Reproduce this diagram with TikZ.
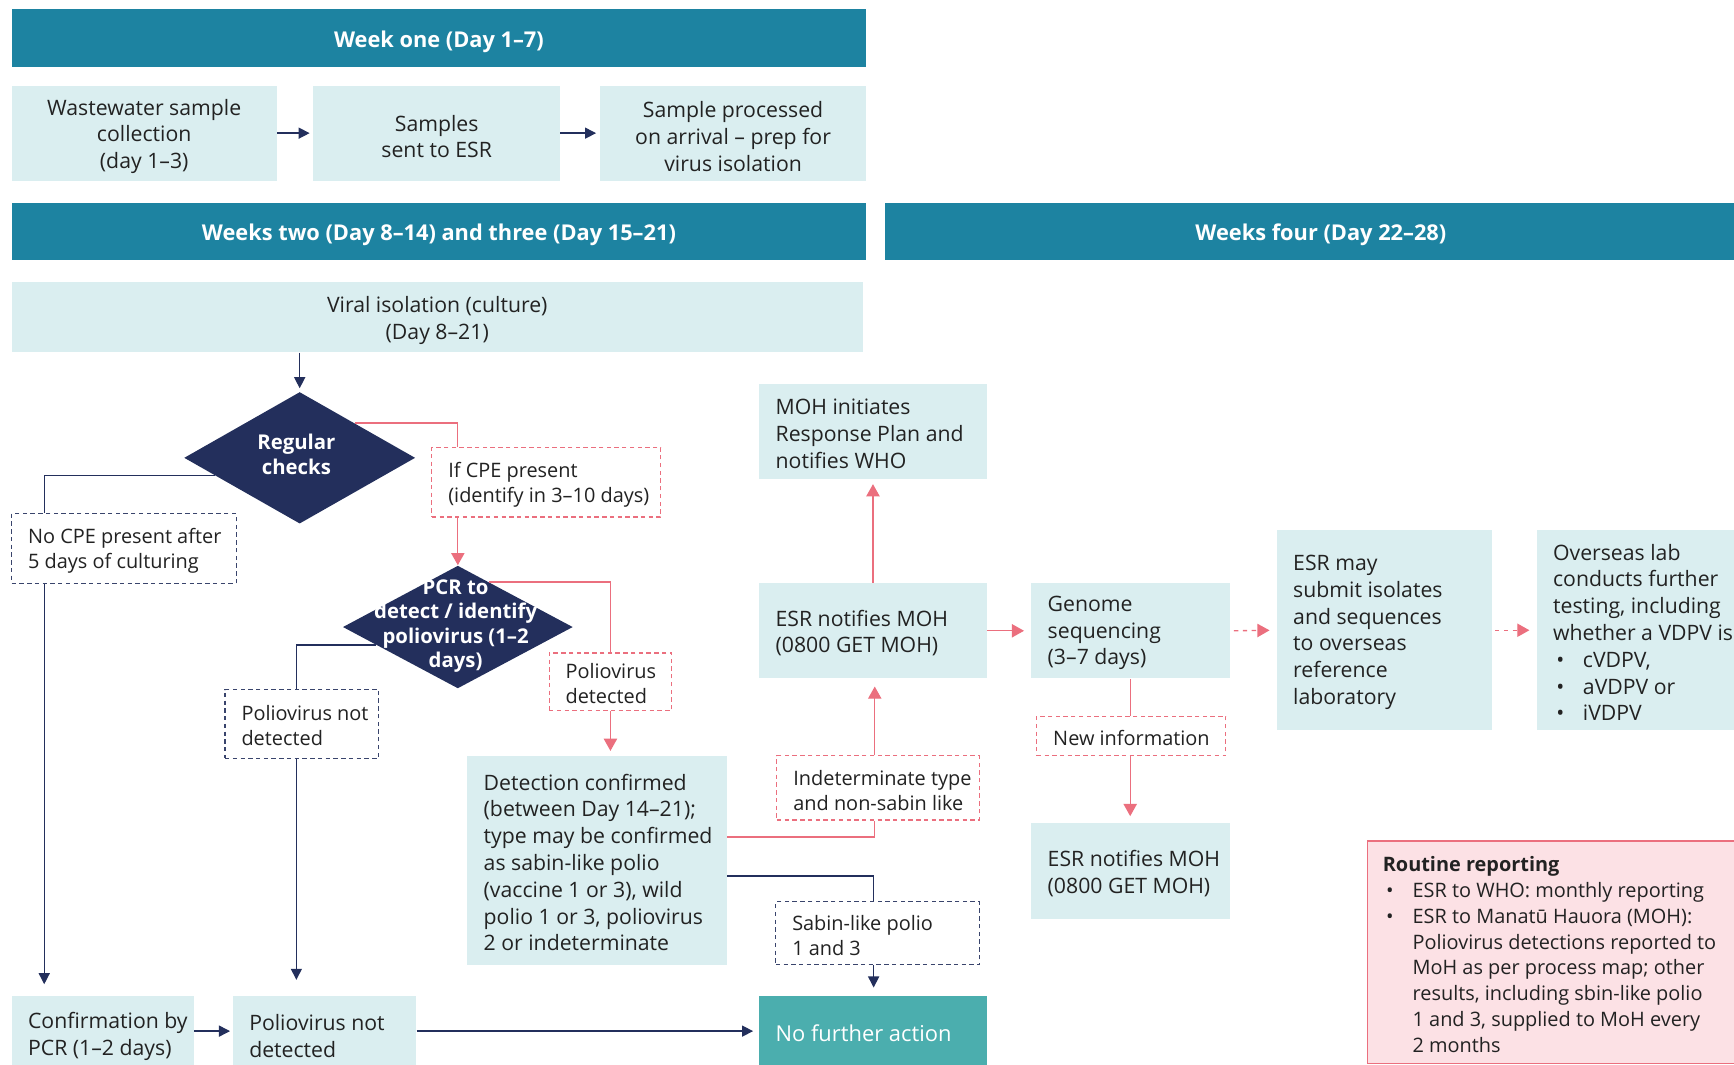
\documentclass[tikz,border=0pt]{standalone}
\usepackage{fontspec}
\setmainfont{Open Sans}
\usetikzlibrary{shapes.geometric,arrows.meta,calc}
\definecolor{hdr}{HTML}{1D83A1}
\definecolor{lbox}{HTML}{DAEEF0}
\definecolor{navy}{HTML}{232F5C}
\definecolor{pinkc}{HTML}{EB6F7E}
\definecolor{tealc}{HTML}{4BAEAE}
\definecolor{rfill}{HTML}{FCE1E5}
\definecolor{txt}{HTML}{222222}
\newcommand\mainf{\fontsize{9.6}{12.1}\selectfont}
\newcommand\smallf{\fontsize{9}{11.3}\selectfont}
\newcommand\repf{\fontsize{9}{11.65}\selectfont}
\newcommand\hdrf{\fontsize{9.85}{12}\selectfont\bfseries}
\newcommand\dmf{\fontsize{9.2}{11}\selectfont\bfseries}
\newcommand\cbox[8]{%
  \pgfmathsetmacro\bw{(#4-#2)*0.5}%
  \pgfmathsetmacro\bh{(#5-#3)*0.5}%
  \node[anchor=north west, minimum width=\bw pt, minimum height=\bh pt, inner sep=0pt, #6] (#1) at (#2,#3) {};%
  \node[align=center, inner sep=0pt, yshift=-1.5pt, #7] (#1t) at (#1.center) {#8};}
\newcommand\lbox[8]{%
  \pgfmathsetmacro\bw{(#4-#2)*0.5}%
  \pgfmathsetmacro\bh{(#5-#3)*0.5}%
  \node[anchor=north west, minimum width=\bw pt, minimum height=\bh pt, inner sep=0pt, #6] (#1) at (#2,#3) {};%
  \node[anchor=west, align=left, inner sep=0pt, yshift=-1pt, #7] (#1t) at ($(#1.west)+(15,0)$) {#8};}
\newcommand\bul{\makebox[13.5pt][l]{\hspace{1.5pt}•}}
\begin{document}
\begin{tikzpicture}[x=0.5pt,y=-0.5pt,
  box/.style={fill=lbox},
  hdrbox/.style={fill=hdr},
  tx/.style={text=txt, font=\mainf},
  tsm/.style={text=txt, font=\smallf},
  thdr/.style={text=white, font=\hdrf},
  dpink/.style={draw=pinkc, dash pattern=on 2pt off 1.5pt, line width=0.5pt, fill=white},
  dnavy/.style={draw=navy!90, dash pattern=on 2pt off 1.5pt, line width=0.5pt, fill=white},
  dmd/.style={diamond, fill=navy, inner sep=0pt},
  dtxt/.style={text=white, font=\dmf, align=center},
  nav/.style={draw=navy, line width=0.6pt},
  nava/.style={nav, -{Triangle[length=5pt,width=5pt]}},
  pk/.style={draw=pinkc, line width=0.6pt},
  pka/.style={pk, -{Triangle[length=5.5pt,width=6pt]}},
  pkd/.style={pka, dash pattern=on 2pt off 2pt}]
\useasboundingbox (0,0) rectangle (1568,963);
% headers
\cbox{h1}{10}{8}{783}{60}{hdrbox}{thdr}{Week one (Day 1–7)}
\cbox{h2}{10}{183}{783}{235}{hdrbox}{thdr}{Weeks two (Day 8–14) and three (Day 15–21)}
\cbox{h3}{800}{183}{1588}{235}{hdrbox}{thdr}{Weeks four (Day 22–28)}
% week one
\cbox{A}{10}{77}{250}{163}{box}{tx}{Wastewater sample\\collection\\(day 1–3)}
\cbox{B}{283}{77}{506}{163}{box}{tx}{Samples\\sent to ESR}
\cbox{C}{542}{77}{783}{163}{box}{tx}{Sample processed\\on arrival – prep for\\virus isolation}
% weeks two/three
\cbox{viral}{10}{255}{780}{318}{box}{tx}{Viral isolation (culture)\\(Day 8–21)}
\node[dmd, minimum width=104.5pt, minimum height=59.5pt] (d1) at (271,414) {};
\node[dtxt] (d1t) at (268,411) {Regular\\checks};
\lbox{cpe}{390}{404}{597}{467}{dpink}{tsm}{If CPE present\\(identify in 3–10 days)}
\lbox{nocpe}{10}{464}{213}{527}{dnavy}{tsm}{No CPE present after\\5 days of culturing}
\node[dmd, minimum width=104pt, minimum height=55.5pt] (d2) at (414,567) {};
\node[dtxt] (d2t) at (412,566) {PCR to\\detect / identify\\poliovirus (1–2\\days)};
\lbox{pvdet}{496}{590}{607}{642}{dpink}{tsm}{Poliovirus\\detected}
\lbox{pvnot}{203}{623}{342}{685}{dnavy}{tsm}{Poliovirus not\\detected}
\lbox{det}{422}{683}{657}{872}{box}{tx}{Detection confirmed\\(between Day 14–21);\\type may be confirmed\\as sabin-like polio\\(vaccine 1 or 3), wild\\polio 1 or 3, poliovirus\\2 or indeterminate}
\lbox{indet}{702}{683}{885}{741}{dpink}{tsm}{Indeterminate type\\and non-sabin like}
\lbox{sabin}{701}{815}{885}{872}{dnavy}{tsm}{Sabin-like polio\\1 and 3}
\lbox{moh}{686}{347}{892}{433}{box}{tx}{MOH initiates\\Response Plan and\\notifies WHO}
\lbox{esr1}{686}{527}{892}{613}{box}{tx}{ESR notifies MOH\\(0800 GET MOH)}
% week four
\lbox{genome}{932}{527}{1112}{613}{box}{tx}{Genome\\sequencing\\(3–7 days)}
\lbox{esrmay}{1154}{479}{1349}{660}{box}{tx}{ESR may\\submit isolates\\and sequences\\to overseas\\reference\\laboratory}
\lbox{overseas}{1389}{479}{1620}{660}{box}{tx}{Overseas lab\\conducts further\\testing, including\\whether a VDPV is\\\bul cVDPV,\\\bul aVDPV or\\\bul iVDPV}
\lbox{newinfo}{937}{647}{1108}{683}{dpink}{tsm}{New information}
\lbox{esr2}{932}{744}{1112}{831}{box}{tx}{ESR notifies MOH\\(0800 GET MOH)}
\lbox{routine}{1236}{760}{1620}{961}{fill=rfill, draw=pinkc, line width=0.6pt}{text=txt, font=\repf, xshift=-0.5pt}{\textbf{Routine reporting}\\\bul ESR to WHO: monthly reporting\\\bul ESR to Manatū Hauora (MOH):\\\hspace*{13.5pt}Poliovirus detections reported to\\\hspace*{13.5pt}MoH as per process map; other\\\hspace*{13.5pt}results, including sbin-like polio\\\hspace*{13.5pt}1 and 3, supplied to MoH every\\\hspace*{13.5pt}2 months}
% bottom row
\lbox{conf}{10}{900}{175}{964}{box}{tx, yshift=-1.3pt}{Confirmation by\\PCR (1–2 days)}
\lbox{pnd}{210}{900}{376}{964}{box}{tx, yshift=-1.3pt}{Poliovirus not\\detected}
\lbox{nfa}{686}{900}{892}{964}{fill=tealc}{text=white, font=\fontsize{9.9}{12}\selectfont}{No further action}
% connectors
\draw[nava, shorten >=1.5pt] (A.east) -- (B.west);
\draw[nava, shorten >=1.5pt] (B.east) -- (C.west);
\draw[nava, shorten >=1.5pt] (d1.north |- viral.south) -- (d1.north);
\draw[pk] ($(d1.north)!0.475!(d1.east)$) -| ($(cpe.north west)+(24,0)$);
\draw[pka] (d2.north |- cpe.south) -- (d2.north);
\draw[nav] ($(d1.west)!0.27!(d1.south)$) -| ($(nocpe.north west)+(30,0)$);
\draw[nava, shorten >=5pt] ($(nocpe.south west)+(30,0)$) -- ($(conf.north west)+(30,0)$);
\draw[pk] ($(d2.north)!0.27!(d2.east)$) -| (pvdet.north);
\draw[pka, shorten >=2pt] (pvdet.south) -- (pvdet.south |- det.north);
\draw[nav] ($(d2.west)!0.29!(d2.south)$) -| ($(pvnot.north west)+(65,0)$);
\draw[nava, shorten >=7pt] ($(pvnot.south west)+(65,0)$) -- ($(pnd.north west)+(58,0)$);
\draw[nava, shorten >=1pt] (conf.east) -- (pnd.west);
\draw[nava, shorten >=2.5pt] (pnd.east) -- (nfa.west);
\draw[pk] ($(det.north east)+(0,74)$) -| ($(indet.south west)+(89,0)$);
\draw[pka, shorten >=3.5pt] ($(indet.north west)+(89,0)$) -- ($(esr1.south west)+(105,0)$);
\draw[pka, shorten >=2pt] (esr1.north) -- (moh.south);
\draw[nav] ($(det.north east)+(0,109)$) -| ($(sabin.north west)+(89,0)$);
\draw[nava, shorten >=3.5pt] ($(sabin.south west)+(89,0)$) -- ($(nfa.north west)+(104,0)$);
\draw[pka, shorten >=3pt] (esr1.east) -- (genome.west);
\draw[pkd, shorten >=3pt, shorten <=1.5pt] (genome.east) -- (esrmay.west);
\draw[pkd, shorten >=3pt, shorten <=1pt] (esrmay.east) -- (esrmay.east -| overseas.west);
\draw[pk] ($(genome.south west)+(90,0)$) -- ($(newinfo.north west)+(85,0)$);
\draw[pka, shorten >=3pt] ($(newinfo.south west)+(85,0)$) -- ($(esr2.north west)+(90,0)$);
\end{tikzpicture}
\end{document}
